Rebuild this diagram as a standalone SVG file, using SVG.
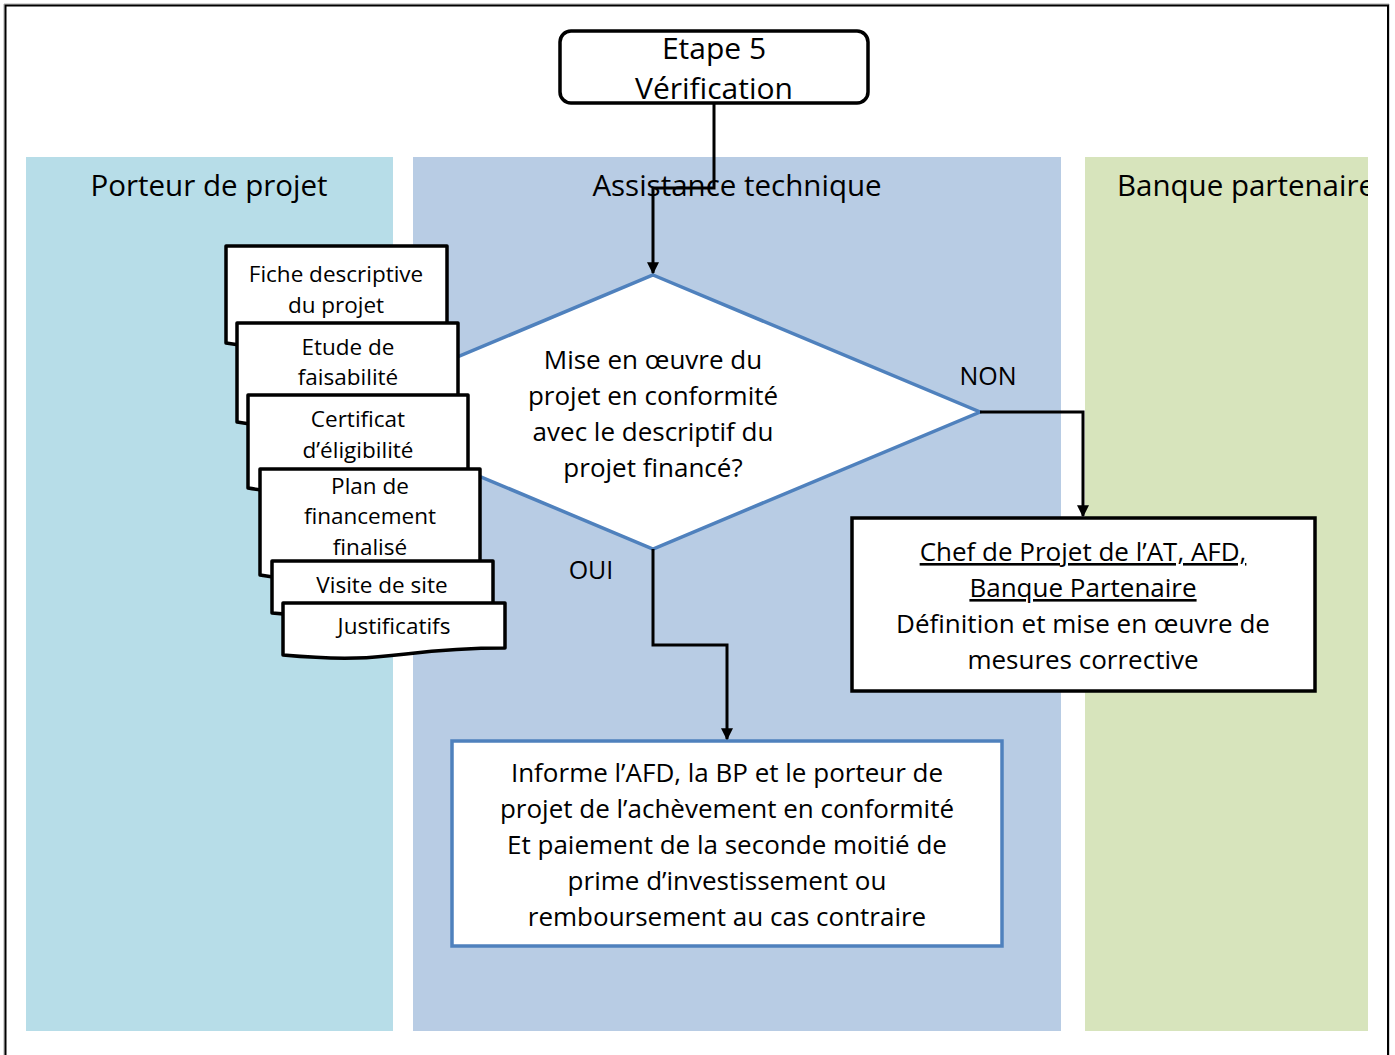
<svg xmlns="http://www.w3.org/2000/svg" width="1395" height="1055" viewBox="0 0 1395 1055">
<style>
text{font-family:"Open Sans","Noto Sans","DejaVu Sans",sans-serif;fill:#000;text-anchor:middle}
.lane-t{font-size:29.5px}
.doc{fill:#fff;stroke:#000;stroke-width:3.5;stroke-linejoin:round}
.doc-t{font-size:22.5px}
.dia-t{font-size:26px}
.box-t{font-size:26px}
.lbl{font-size:25px}
.conn{fill:none;stroke:#000;stroke-width:3}
.u{text-decoration:underline}
</style>
<defs>
<marker id="arr" viewBox="0 0 10 10" refX="9" refY="5" markerWidth="4" markerHeight="4" orient="auto" markerUnits="strokeWidth">
<path d="M0,0 L10,5 L0,10 z" fill="#000"/>
</marker>
<clipPath id="lane3clip"><rect x="1085" y="157" width="283" height="874"/></clipPath>
</defs>
<rect x="0" y="0" width="1395" height="1055" fill="#fff"/>
<g id="frame">
<path d="M4,1055 V4 H1389 V1055" fill="none" stroke="#aaa" stroke-width="1"/>
<path d="M5.5,1055 V5.5 H1388 V1055" fill="none" stroke="#000" stroke-width="2"/>
</g>
<g id="lane-porteur">
<rect x="26" y="157" width="367" height="874" fill="#b7dde8"/>
<text class="lane-t" x="209" y="196">Porteur de projet</text>
</g>
<g id="lane-assistance">
<rect x="413" y="157" width="648" height="874" fill="#b8cce4"/>
<text class="lane-t" x="737" y="196">Assistance technique</text>
</g>
<g id="lane-banque">
<rect x="1085" y="157" width="283" height="874" fill="#d7e4bc"/>
<text class="lane-t" x="1117" y="196" style="text-anchor:start" clip-path="url(#lane3clip)">Banque partenaire</text>
</g>
<g id="etape5">
<rect x="560" y="31" width="308" height="72" rx="11" fill="#fff" stroke="#000" stroke-width="3.5"/>
<text x="714" y="59" style="font-size:30px">Etape 5</text>
<text x="714" y="99" style="font-size:30px">Vérification</text>
</g>
<g id="decision">
<polygon points="653,275 980,412 653,549 326,412" fill="#fff" stroke="#4f81bd" stroke-width="3.5"/>
<text class="dia-t" x="653" y="369">Mise en œuvre du</text>
<text class="dia-t" x="653" y="405">projet en conformité</text>
<text class="dia-t" x="653" y="441">avec le descriptif du</text>
<text class="dia-t" x="653" y="477">projet financé?</text>
</g>
<g id="doc-fiche">
<path class="doc" d="M226,246 H447 V329 C336,329 336,361 226,343 Z"/>
<text class="doc-t" x="336" y="282">Fiche descriptive</text>
<text class="doc-t" x="336" y="313">du projet</text>
</g>
<g id="doc-etude">
<path class="doc" d="M237,323 H458 V408 C348,408 348,441 237,422 Z"/>
<text class="doc-t" x="348" y="355">Etude de</text>
<text class="doc-t" x="348" y="385">faisabilité</text>
</g>
<g id="doc-certificat">
<path class="doc" d="M248,395 H468 V475 C358,475 358,506 248,488 Z"/>
<text class="doc-t" x="358" y="427">Certificat</text>
<text class="doc-t" x="358" y="458">d’éligibilité</text>
</g>
<g id="doc-plan">
<path class="doc" d="M260,469 H480 V562 C370,562 370,594 260,575 Z"/>
<text class="doc-t" x="370" y="494">Plan de</text>
<text class="doc-t" x="370" y="524">financement</text>
<text class="doc-t" x="370" y="555">finalisé</text>
</g>
<g id="doc-visite">
<path class="doc" d="M272,561 H493 V606 C382,606 382,623 272,613 Z"/>
<text class="doc-t" x="382" y="593">Visite de site</text>
</g>
<g id="doc-justificatifs">
<path class="doc" d="M283,603 H505 V648 C394,648 394,665 283,655 Z"/>
<text class="doc-t" x="394" y="634">Justificatifs</text>
</g>
<g id="chef">
<rect x="852" y="518" width="463" height="173" fill="#fff" stroke="#000" stroke-width="3.5"/>
<text class="box-t u" x="1083" y="561">Chef de Projet de l’AT, AFD,</text>
<text class="box-t u" x="1083" y="597">Banque Partenaire</text>
<text class="box-t" x="1083" y="633">Définition et mise en œuvre de</text>
<text class="box-t" x="1083" y="669">mesures corrective</text>
</g>
<g id="informe">
<rect x="452" y="741" width="550" height="205" fill="#fff" stroke="#4f81bd" stroke-width="3.5"/>
<text class="box-t" x="727" y="782">Informe l’AFD, la BP et le porteur de</text>
<text class="box-t" x="727" y="818">projet de l’achèvement en conformité</text>
<text class="box-t" x="727" y="854">Et paiement de la seconde moitié de</text>
<text class="box-t" x="727" y="890">prime d’investissement ou</text>
<text class="box-t" x="727" y="926">remboursement au cas contraire</text>
</g>
<g id="connectors">
<path class="conn" d="M714,103 V188 H653 V273" marker-end="url(#arr)"/>
<path class="conn" d="M980,412 H1083 V516" marker-end="url(#arr)"/>
<path class="conn" d="M653,549 V645 H727 V739" marker-end="url(#arr)"/>
<text class="lbl" x="988" y="385">NON</text>
<text class="lbl" x="591" y="579">OUI</text>
</g>
</svg>
